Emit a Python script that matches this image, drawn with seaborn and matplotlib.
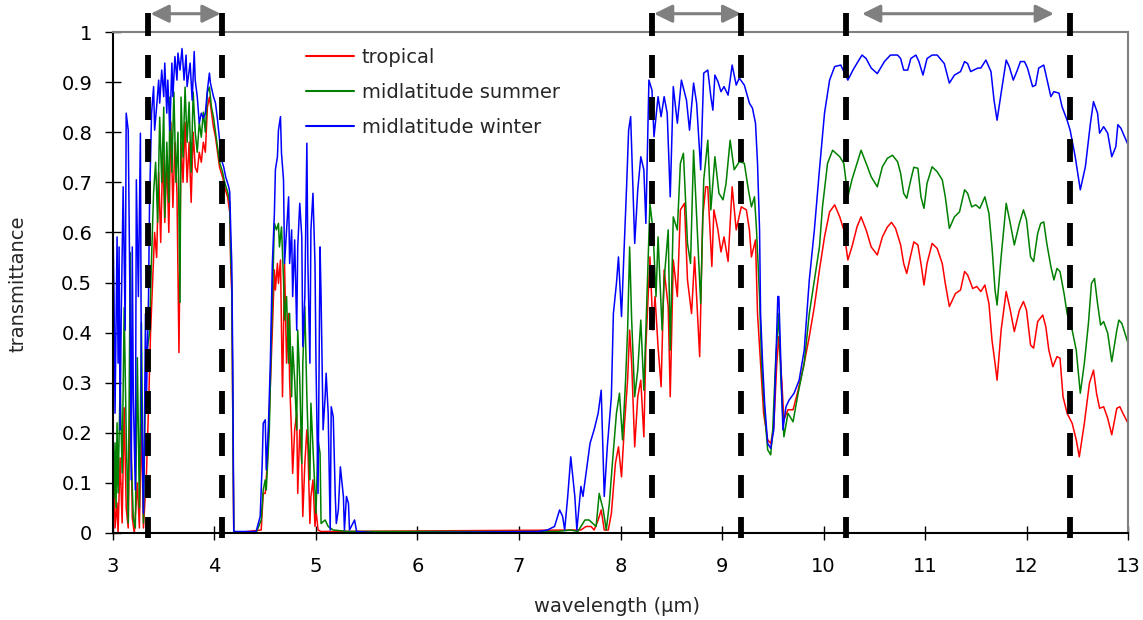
import matplotlib
matplotlib.use("Agg")
import matplotlib.pyplot as plt
import seaborn as sns

# ---------------- data ----------------
series_names = ["tropical", "midlatitude summer", "midlatitude winter"]
series_colors = ["#ff0000", "#008000", "#0000ff"]

trop_x = [3.00, 3.01, 3.02, 3.04, 3.05, 3.07, 3.09, 3.11, 3.13, 3.15, 3.17, 3.19, 3.21, 3.24, 3.26,
          3.28, 3.30, 3.33, 3.35, 3.37, 3.39, 3.41, 3.43, 3.45, 3.47, 3.49, 3.51, 3.53, 3.55, 3.57,
          3.59, 3.61, 3.63, 3.65, 3.67, 3.69, 3.71, 3.73, 3.75, 3.77, 3.79, 3.81, 3.83, 3.85, 3.87,
          3.89, 3.91, 3.93, 3.95, 3.97, 3.99, 4.01, 4.03, 4.05, 4.08, 4.10, 4.13, 4.15, 4.16, 4.17,
          4.18, 4.19, 4.46,
          4.48, 4.50, 4.52, 4.54, 4.57, 4.59, 4.60, 4.62, 4.63, 4.65, 4.67, 4.68, 4.69, 4.71, 4.73,
          4.74, 4.76, 4.77, 4.79, 4.81, 4.82, 4.84, 4.86, 4.87, 4.89, 4.91, 4.92, 4.94, 4.95, 4.97,
          4.99, 5.00, 5.02, 5.05, 7.61,
          7.66, 7.71, 7.74, 7.78, 7.81, 7.84, 7.88, 7.91, 7.95, 7.98, 8.01, 8.04, 8.07, 8.09, 8.11,
          8.14, 8.17, 8.20, 8.23, 8.25, 8.29, 8.32, 8.34, 8.37, 8.40, 8.43, 8.47, 8.49, 8.52, 8.56,
          8.59, 8.63, 8.66, 8.70, 8.73, 8.78, 8.81, 8.84,
          8.86, 8.90, 8.92, 8.96, 8.99, 9.02, 9.06, 9.10, 9.14, 9.19, 9.24, 9.27, 9.29, 9.33, 9.35,
          9.38, 9.41, 9.45, 9.48, 9.51, 9.54, 9.56, 9.59, 9.61, 9.65, 9.70, 9.75, 9.81, 9.86, 9.91,
          9.96, 10.01, 10.06, 10.11, 10.16, 10.20, 10.24, 10.28, 10.33, 10.37, 10.42, 10.47,
          10.53, 10.58, 10.63, 10.67, 10.71, 10.76, 10.79, 10.82, 10.86, 10.89, 10.93, 10.96, 10.99,
          11.02, 11.07, 11.12, 11.17, 11.20, 11.24, 11.30, 11.35, 11.39, 11.42, 11.47, 11.51, 11.55,
          11.59, 11.63, 11.66, 11.69, 11.71, 11.75, 11.80, 11.84, 11.88, 11.93, 11.97, 12.00, 12.04,
          12.07, 12.11, 12.16, 12.19, 12.22, 12.26, 12.30, 12.33, 12.36, 12.40, 12.45, 12.49, 12.52,
          12.57, 12.62, 12.66, 12.69, 12.72, 12.76, 12.80, 12.84, 12.89, 12.92, 12.95, 13.00]
trop_y = [0.02, 0.12, 0.01, 0.06, 0.00, 0.15, 0.02, 0.25, 0.05, 0.01, 0.30, 0.03, 0.00, 0.10, 0.01,
          0.22, 0.01, 0.12, 0.25, 0.40, 0.50, 0.60, 0.55, 0.72, 0.58, 0.76, 0.62, 0.75, 0.60, 0.82,
          0.65, 0.78, 0.68, 0.36, 0.78, 0.70, 0.82, 0.70, 0.78, 0.66, 0.80, 0.73, 0.72, 0.76, 0.74,
          0.78, 0.76, 0.85, 0.87, 0.84, 0.81, 0.79, 0.76, 0.73, 0.71, 0.69, 0.67, 0.64, 0.53, 0.48,
          0.25, 0.00, 0.006,
          0.079, 0.079, 0.139, 0.239, 0.405, 0.525, 0.485, 0.538, 0.498, 0.545, 0.272, 0.405, 0.538, 0.339, 0.438,
          0.305, 0.192, 0.119, 0.206, 0.239, 0.079, 0.206, 0.139, 0.033, 0.139, 0.206, 0.172, 0.019, 0.073, 0.106,
          0.013, 0.046, 0.006, 0.003, 0.006,
          0.013, 0.013, 0.006, 0.026, 0.046, 0.006, 0.006, 0.039, 0.139, 0.172, 0.112, 0.219, 0.305, 0.405, 0.339,
          0.172, 0.272, 0.305, 0.192, 0.372, 0.551, 0.405, 0.472, 0.372, 0.292, 0.525, 0.452, 0.272, 0.545, 0.472,
          0.645, 0.658, 0.505, 0.438, 0.551, 0.352, 0.631, 0.691,
          0.691, 0.532, 0.645, 0.605, 0.561, 0.591, 0.542, 0.691, 0.605, 0.651, 0.645, 0.605, 0.551, 0.585, 0.438,
          0.339, 0.239, 0.186, 0.179, 0.212, 0.339, 0.392, 0.299, 0.226, 0.246, 0.246, 0.285, 0.339, 0.392, 0.452,
          0.525, 0.591, 0.641, 0.655, 0.631, 0.605, 0.545, 0.571, 0.611, 0.631, 0.605, 0.571,
          0.555, 0.591, 0.611, 0.620, 0.608, 0.575, 0.538, 0.518, 0.555, 0.581, 0.575, 0.538, 0.495,
          0.538, 0.578, 0.568, 0.538, 0.498, 0.452, 0.478, 0.485, 0.522, 0.515, 0.488, 0.492, 0.482,
          0.495, 0.458, 0.385, 0.339, 0.305, 0.405, 0.482, 0.445, 0.402, 0.445, 0.462, 0.445, 0.375,
          0.369, 0.422, 0.435, 0.412, 0.365, 0.332, 0.352, 0.349, 0.272, 0.239, 0.219, 0.186, 0.152,
          0.219, 0.299, 0.325, 0.279, 0.249, 0.252, 0.229, 0.196, 0.249, 0.252, 0.239, 0.219]

mls_x = [3.00, 3.01, 3.02, 3.03, 3.04, 3.05, 3.07, 3.09, 3.11, 3.13, 3.15, 3.17, 3.18, 3.20, 3.22,
         3.24, 3.26, 3.28, 3.30, 3.32, 3.34, 3.36, 3.38, 3.40, 3.42, 3.44, 3.46, 3.48, 3.50, 3.51,
         3.53, 3.55, 3.56, 3.58, 3.60, 3.62, 3.64, 3.66, 3.67, 3.69, 3.71, 3.73, 3.75, 3.77, 3.79,
         3.81, 3.83, 3.85, 3.87, 3.89, 3.91, 3.93, 3.95, 3.97, 3.99, 4.01, 4.03, 4.05, 4.08, 4.10,
         4.13, 4.15, 4.16, 4.17, 4.18, 4.19, 4.41,
         4.46, 4.48, 4.50, 4.51, 4.54, 4.56, 4.58, 4.59, 4.61, 4.63, 4.64, 4.66, 4.68, 4.69, 4.71,
         4.73, 4.74, 4.76, 4.77, 4.79, 4.81, 4.82, 4.84, 4.86, 4.87, 4.89, 4.91, 4.92, 4.94, 4.95,
         4.97, 4.99, 5.00, 5.02, 5.04, 5.05, 5.09, 5.12, 5.17, 5.32, 7.38,
         7.51, 7.58, 7.65, 7.69, 7.76, 7.79, 7.83, 7.86, 7.89, 7.92, 7.96, 7.99, 8.02, 8.05, 8.07,
         8.09, 8.11, 8.14, 8.17, 8.20, 8.23, 8.25, 8.29, 8.32, 8.35, 8.37, 8.41, 8.43, 8.47, 8.49,
         8.52, 8.56, 8.59, 8.62, 8.66, 8.69, 8.72, 8.75, 8.79, 8.82,
         8.86, 8.89, 8.93, 8.97, 9.01, 9.04, 9.08, 9.12, 9.17, 9.22, 9.26, 9.29, 9.32, 9.34, 9.37,
         9.39, 9.42, 9.45, 9.48, 9.50, 9.53, 9.56, 9.58, 9.61, 9.65, 9.70, 9.75, 9.81, 9.86, 9.91,
         9.96, 9.99, 10.04, 10.09, 10.16, 10.20, 10.24, 10.28, 10.33, 10.37, 10.42, 10.47,
         10.53, 10.58, 10.63, 10.68, 10.73, 10.76, 10.79, 10.82, 10.86, 10.89, 10.93, 10.96, 10.99,
         11.02, 11.07, 11.12, 11.17, 11.20, 11.24, 11.29, 11.34, 11.39, 11.42, 11.46, 11.50, 11.54,
         11.59, 11.63, 11.66, 11.69, 11.71, 11.75, 11.80, 11.84, 11.88, 11.93, 11.97, 12.00, 12.04,
         12.07, 12.11, 12.14, 12.17, 12.20, 12.24, 12.27, 12.30, 12.33, 12.37, 12.40, 12.45, 12.49,
         12.53, 12.57, 12.61, 12.64, 12.67, 12.70, 12.73, 12.76, 12.80, 12.84, 12.89, 12.91, 12.94,
         13.00]
mls_y = [0.20, 0.07, 0.18, 0.05, 0.22, 0.08, 0.30, 0.12, 0.45, 0.20, 0.02, 0.56, 0.15, 0.03, 0.01,
         0.35, 0.05, 0.42, 0.02, 0.30, 0.37, 0.40, 0.55, 0.68, 0.74, 0.62, 0.83, 0.70, 0.85, 0.63,
         0.78, 0.66, 0.87, 0.72, 0.88, 0.70, 0.80, 0.46, 0.87, 0.75, 0.89, 0.78, 0.86, 0.72, 0.88,
         0.80, 0.76, 0.82, 0.79, 0.84, 0.80, 0.88, 0.89, 0.85, 0.83, 0.80, 0.77, 0.74, 0.72, 0.70,
         0.68, 0.66, 0.55, 0.50, 0.25, 0.00, 0.00,
         0.026, 0.086, 0.106, 0.086, 0.206, 0.385, 0.538, 0.618, 0.605, 0.618, 0.571, 0.611, 0.505, 0.425, 0.472,
         0.339, 0.438, 0.272, 0.372, 0.305, 0.206, 0.405, 0.305, 0.139, 0.339, 0.452, 0.272, 0.206, 0.106, 0.259,
         0.172, 0.086, 0.039, 0.186, 0.159, 0.019, 0.026, 0.013, 0.006, 0.003, 0.003,
         0.006, 0.003, 0.026, 0.026, 0.013, 0.079, 0.046, 0.006, 0.059, 0.139, 0.239, 0.279, 0.186, 0.305, 0.405,
         0.571, 0.425, 0.272, 0.325, 0.425, 0.285, 0.405, 0.658, 0.605, 0.472, 0.591, 0.405, 0.505, 0.605, 0.365,
         0.631, 0.605, 0.738, 0.758, 0.578, 0.538, 0.764, 0.631, 0.458, 0.705,
         0.784, 0.645, 0.751, 0.678, 0.665, 0.698, 0.784, 0.725, 0.741, 0.738, 0.685, 0.651, 0.671, 0.605, 0.472,
         0.339, 0.239, 0.166, 0.156, 0.206, 0.352, 0.438, 0.305, 0.192, 0.239, 0.222, 0.279, 0.339, 0.438, 0.505,
         0.571, 0.651, 0.738, 0.764, 0.751, 0.738, 0.671, 0.705, 0.738, 0.764, 0.738, 0.711,
         0.691, 0.731, 0.748, 0.754, 0.741, 0.718, 0.678, 0.668, 0.705, 0.730, 0.728, 0.671, 0.648,
         0.698, 0.731, 0.721, 0.705, 0.671, 0.608, 0.631, 0.641, 0.685, 0.678, 0.651, 0.655, 0.648,
         0.671, 0.638, 0.571, 0.485, 0.455, 0.551, 0.658, 0.618, 0.575, 0.618, 0.645, 0.625, 0.551,
         0.542, 0.598, 0.618, 0.621, 0.578, 0.532, 0.505, 0.528, 0.522, 0.478, 0.438, 0.405, 0.365,
         0.279, 0.339, 0.418, 0.498, 0.508, 0.458, 0.415, 0.422, 0.399, 0.342, 0.405, 0.425, 0.418,
         0.379]

mlw_x = [3.00, 3.01, 3.02, 3.04, 3.05, 3.06, 3.07, 3.08, 3.10, 3.12, 3.13, 3.15, 3.17, 3.18, 3.19,
         3.20, 3.22, 3.23, 3.25, 3.27, 3.28, 3.30, 3.31, 3.32, 3.33, 3.35, 3.36, 3.38, 3.40, 3.41,
         3.43, 3.45, 3.46, 3.48, 3.50, 3.51, 3.53, 3.54, 3.56, 3.58, 3.59, 3.61, 3.63, 3.64, 3.66,
         3.68, 3.70, 3.72, 3.73, 3.76, 3.78, 3.80, 3.81, 3.83, 3.85, 3.87, 3.89, 3.91, 3.93, 3.95,
         3.96, 3.99, 4.01, 4.03, 4.05, 4.06, 4.09, 4.11, 4.14, 4.15, 4.16, 4.17, 4.18, 4.19, 4.41,
         4.45, 4.47, 4.48, 4.50, 4.51, 4.53, 4.55, 4.57, 4.59, 4.60, 4.62, 4.63, 4.65, 4.66, 4.68,
         4.69, 4.71, 4.73, 4.74, 4.76, 4.77, 4.79, 4.81, 4.82, 4.84, 4.86, 4.87, 4.89, 4.91, 4.92,
         4.94, 4.95, 4.97, 4.99, 5.00, 5.02, 5.04, 5.05, 5.07, 5.09, 5.10, 5.12, 5.14, 5.15, 5.17,
         5.19, 5.20, 5.22, 5.24, 5.27, 5.28, 5.30, 5.32, 5.33, 5.38, 5.40, 5.60, 7.19,
         7.28, 7.35, 7.40, 7.43, 7.45, 7.48, 7.51, 7.55, 7.57, 7.61, 7.63, 7.66, 7.70, 7.74, 7.78,
         7.81, 7.84, 7.87, 7.91, 7.93, 7.96, 7.98, 8.01, 8.03, 8.06, 8.08, 8.10, 8.12, 8.14, 8.17,
         8.20, 8.23, 8.25, 8.28, 8.31, 8.33, 8.37, 8.40, 8.43, 8.46, 8.49, 8.52, 8.56, 8.60, 8.65,
         8.68, 8.72, 8.75, 8.79, 8.82,
         8.86, 8.89, 8.91, 8.93, 8.96, 8.99, 9.02, 9.06, 9.10, 9.14, 9.17, 9.22, 9.27, 9.30, 9.33,
         9.35, 9.37, 9.38, 9.40, 9.42, 9.45, 9.48, 9.51, 9.53, 9.55, 9.56, 9.58, 9.60, 9.63, 9.66,
         9.71, 9.76, 9.81, 9.86, 9.91, 9.96, 10.01, 10.06, 10.11, 10.17, 10.24, 10.29, 10.34, 10.38,
         10.42, 10.47,
         10.53, 10.60, 10.66, 10.73, 10.76, 10.79, 10.83, 10.86, 10.91, 10.94, 10.98, 11.02, 11.07,
         11.12, 11.19, 11.24, 11.29, 11.35, 11.39, 11.42, 11.45, 11.52, 11.55, 11.60, 11.65, 11.68,
         11.71, 11.75, 11.80, 11.83, 11.87, 11.91, 11.94, 11.98, 12.01, 12.06, 12.09, 12.12, 12.17,
         12.21, 12.24, 12.27, 12.32, 12.35, 12.40, 12.43, 12.48, 12.53, 12.58, 12.63, 12.66, 12.70,
         12.72, 12.76, 12.80, 12.84, 12.88, 12.90, 12.93, 13.00]
mlw_y = [0.605, 0.472, 0.239, 0.591, 0.339, 0.571, 0.206, 0.418, 0.691, 0.405, 0.838, 0.804, 0.405, 0.106, 0.571,
         0.272, 0.086, 0.705, 0.472, 0.798, 0.272, 0.039, 0.206, 0.438, 0.272, 0.472, 0.658, 0.838, 0.891, 0.804,
         0.851, 0.904, 0.858, 0.924, 0.871, 0.938, 0.838, 0.904, 0.804, 0.938, 0.871, 0.951, 0.904, 0.958, 0.924,
         0.967, 0.904, 0.954, 0.891, 0.938, 0.864, 0.961, 0.904, 0.871, 0.818, 0.838, 0.828, 0.838, 0.884, 0.918,
         0.898, 0.871, 0.858, 0.824, 0.784, 0.751, 0.731, 0.711, 0.691, 0.681, 0.605, 0.538, 0.339, 0.003, 0.003,
         0.033, 0.139, 0.219, 0.226, 0.126, 0.206, 0.339, 0.538, 0.638, 0.725, 0.751, 0.804, 0.831, 0.758, 0.705,
         0.538, 0.605, 0.671, 0.538, 0.605, 0.472, 0.585, 0.405, 0.571, 0.658, 0.591, 0.372, 0.472, 0.778, 0.538,
         0.339, 0.605, 0.678, 0.538, 0.339, 0.079, 0.571, 0.472, 0.206, 0.272, 0.319, 0.239, 0.006, 0.252, 0.232,
         0.073, 0.019, 0.046, 0.132, 0.073, 0.006, 0.073, 0.059, 0.006, 0.026, 0.003, 0.000, 0.003,
         0.006, 0.013, 0.046, 0.033, 0.006, 0.073, 0.152, 0.073, 0.006, 0.093, 0.073, 0.119, 0.179, 0.206, 0.239,
         0.285, 0.073, 0.172, 0.272, 0.438, 0.498, 0.551, 0.432, 0.538, 0.691, 0.804, 0.831, 0.705, 0.578, 0.685,
         0.751, 0.725, 0.618, 0.904, 0.884, 0.791, 0.871, 0.831, 0.871, 0.838, 0.671, 0.891, 0.818, 0.904, 0.864,
         0.804, 0.898, 0.858, 0.725, 0.918,
         0.924, 0.871, 0.844, 0.914, 0.901, 0.881, 0.891, 0.874, 0.934, 0.894, 0.908, 0.894, 0.858, 0.848, 0.818,
         0.738, 0.605, 0.438, 0.339, 0.259, 0.179, 0.169, 0.206, 0.339, 0.472, 0.472, 0.339, 0.206, 0.252, 0.265,
         0.279, 0.305, 0.365, 0.505, 0.605, 0.725, 0.838, 0.904, 0.931, 0.934, 0.904, 0.924, 0.941, 0.954,
         0.947, 0.928,
         0.917, 0.941, 0.954, 0.954, 0.947, 0.924, 0.924, 0.947, 0.954, 0.941, 0.914, 0.947, 0.954,
         0.954, 0.937, 0.898, 0.914, 0.921, 0.941, 0.937, 0.921, 0.928, 0.928, 0.944, 0.921, 0.864,
         0.824, 0.878, 0.944, 0.931, 0.904, 0.924, 0.941, 0.941, 0.928, 0.891, 0.894, 0.928, 0.934,
         0.898, 0.871, 0.881, 0.878, 0.851, 0.824, 0.804, 0.751, 0.685, 0.731, 0.818, 0.861, 0.838,
         0.798, 0.811, 0.798, 0.751, 0.771, 0.815, 0.808, 0.775]

window_edges = [3.34, 4.07, 8.31, 9.19, 10.22, 12.43]
arrow_spans = [(3.37, 4.06), (8.33, 9.19), (10.38, 12.27)]

x_ticks = [3, 4, 5, 6, 7, 8, 9, 10, 11, 12, 13]
x_tick_labels = ["3", "4", "5", "6", "7", "8", "9", "10", "11", "12", "13"]
y_ticks = [0, 0.1, 0.2, 0.3, 0.4, 0.5, 0.6, 0.7, 0.8, 0.9, 1.0]
y_tick_labels = ["0", "0.1", "0.2", "0.3", "0.4", "0.5", "0.6", "0.7", "0.8", "0.9", "1"]

x_label = "wavelength (\u00b5m)"
y_label = "transmittance"

# ---------------- drawing ----------------
sns.set_style("ticks")
plt.rcParams["font.family"] = ["DejaVu Sans"]

W, H = 1143, 620
fig = plt.figure(figsize=(W / 100, H / 100), dpi=100)
ax = fig.add_axes([113 / W, 1 - 533 / H, (1128 - 113) / W, (533 - 32) / H])

for name, xs, ys, col in zip(series_names, [trop_x, mls_x, mlw_x], [trop_y, mls_y, mlw_y], series_colors):
    sns.lineplot(x=xs, y=ys, ax=ax, color=col, lw=1.1, label=name, sort=False, estimator=None)

ax.set_xlim(3, 13)
ax.set_ylim(0, 1)
ax.set_xticks(x_ticks)
ax.set_xticklabels(x_tick_labels)
ax.set_yticks(y_ticks)
ax.set_yticklabels(y_tick_labels)
ax.tick_params(axis="y", direction="inout", length=12, width=1.0, pad=9, labelsize=14, colors="black")
ax.tick_params(axis="x", direction="inout", length=10, width=1.0, pad=12, labelsize=14, colors="black")
ax.set_xlabel("")
ax.set_ylabel("")

for s in ["left", "bottom"]:
    ax.spines[s].set_color("black")
    ax.spines[s].set_linewidth(1.5)
for s in ["top", "right"]:
    ax.spines[s].set_color("#808080")
    ax.spines[s].set_linewidth(1.5)
    ax.spines[s].set_visible(True)

# dashed window boundaries
for xv in window_edges:
    ax.plot([xv, xv], [1.038, -0.01], color="black", lw=4.2,
            linestyle=(0, (3.94, 3.26)), clip_on=False, zorder=6, solid_capstyle="butt")

# gray double arrows above the plot
for x0, x1 in arrow_spans:
    ax.annotate("", xy=(x1, 1.0365), xytext=(x0, 1.0365), xycoords="data",
                arrowprops=dict(arrowstyle="<|-|>,head_length=0.55,head_width=0.27",
                                color="#808080", lw=2.2, shrinkA=0, shrinkB=0, mutation_scale=20),
                annotation_clip=False)

leg = ax.legend(loc="upper left", bbox_to_anchor=(306 / W, 1 - 48 / H), bbox_transform=fig.transFigure,
                frameon=False, fontsize=14, handlelength=2.45, handletextpad=0.42, labelspacing=0.83,
                borderpad=0, borderaxespad=0)
for line in leg.get_lines():
    line.set_linewidth(1.5)

fig.text(617 / W, 1 - 607 / H, x_label, ha="center", va="center", fontsize=14)
fig.text(18 / W, 1 - 352 / H, y_label, ha="center", va="bottom", rotation=90, fontsize=14)

fig.savefig("out.png", dpi=100)
